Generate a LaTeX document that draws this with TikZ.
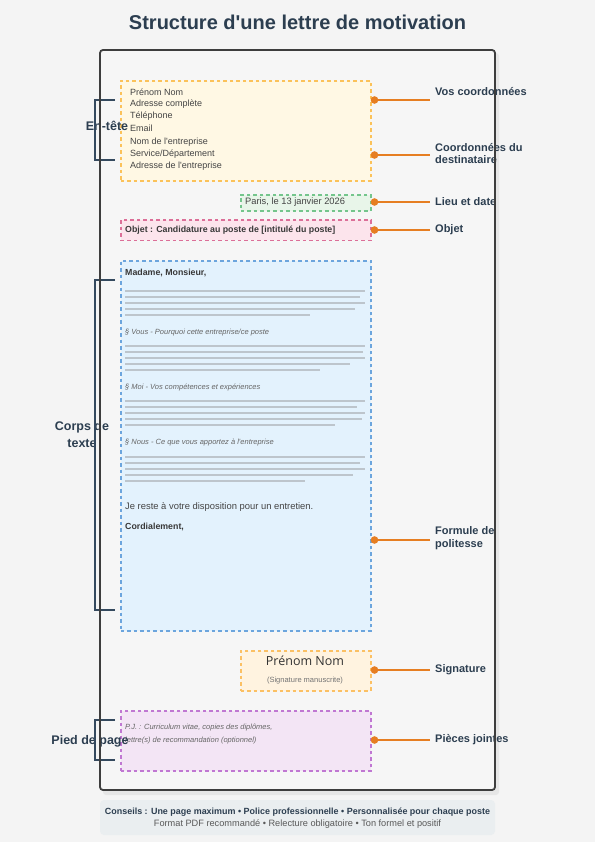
\documentclass[tikz,border=0pt]{standalone}
\usepackage{fontspec}
\setmainfont{Liberation Sans}[Ligatures=TeXOff]
\newfontfamily\handfont{Open Sans}
\definecolor{bgc}{HTML}{F4F4F4}
\definecolor{pagec}{HTML}{F6F6F6}
\definecolor{shadowc}{HTML}{E6E6E6}
\definecolor{borderc}{HTML}{3D3D3D}
\definecolor{navy}{HTML}{2C3E50}
\definecolor{brkc}{HTML}{34495E}
\definecolor{orng}{HTML}{E67E22}
\definecolor{txtc}{HTML}{444444}
\definecolor{itc}{HTML}{666666}
\definecolor{linec}{HTML}{BDC5CC}
\definecolor{ydraw}{HTML}{FBC25A}
\definecolor{yfill}{HTML}{FFF8E4}
\definecolor{gdraw}{HTML}{74C58C}
\definecolor{gfill}{HTML}{E8F5E9}
\definecolor{pdraw}{HTML}{DC6F98}
\definecolor{pfill}{HTML}{FCE4EC}
\definecolor{bdraw}{HTML}{6CA5DD}
\definecolor{bfill}{HTML}{E3F2FD}
\definecolor{odraw}{HTML}{FBC064}
\definecolor{ofill}{HTML}{FFF3E0}
\definecolor{vdraw}{HTML}{C077D2}
\definecolor{vfill}{HTML}{F3E5F5}
\definecolor{footc}{HTML}{EAEEF0}
\tikzset{
  secbox/.style={line width=1.6pt, dash pattern=on 3.5pt off 3pt, anchor=north west, inner sep=0pt},
  boxtxt/.style={anchor=west, inner sep=0pt, font=\fontsize{9}{11}\selectfont, text=txtc},
  boldtxt/.style={anchor=west, inner sep=0pt, font=\bfseries\fontsize{8.8}{11}\selectfont, text=black!78},
  ittxt/.style={anchor=west, inner sep=0pt, font=\itshape\fontsize{7.5}{10}\selectfont, text=itc},
  lbl/.style={anchor=west, inner xsep=5pt, inner ysep=0pt, font=\bfseries\fontsize{11}{12.8}\selectfont, text=navy, align=left},
  sidelbl/.style={inner sep=0pt, font=\bfseries\fontsize{12.5}{17}\selectfont, text=navy, align=center},
  conn/.style={draw=orng, line width=1.6pt},
  dotc/.style={fill=orng},
  brk/.style={draw=brkc, line width=1.6pt},
  txtline/.style={draw=linec, line width=2.3pt}
}
\begin{document}
\begin{tikzpicture}[x=1pt,y=-1pt]
\useasboundingbox (0,0) rectangle (595,842);
\fill[bgc] (0,0) rectangle (595,842);
% title
\node[inner sep=0pt, font=\bfseries\fontsize{20}{24}\selectfont, text=navy] (title) at (297.5,22) {Structure d'une lettre de motivation};
% page shadow and fill
\fill[shadowc, rounded corners=3pt] (103,53) rectangle (499,795);
\fill[pagec, rounded corners=3pt] (100,50) rectangle (495,790);
% en-tete
\node[secbox, draw=ydraw, fill=yfill, minimum width=250pt, minimum height=100pt] (entete) at (120,80) {};
\node[boxtxt] (t1) at (130,92.5) {Prénom Nom};
\node[boxtxt] (t2) at (130,104.2) {Adresse complète};
\node[boxtxt] (t3) at (130,116) {Téléphone};
\node[boxtxt] (t4) at (130,128) {Email};
\node[boxtxt] (t5) at (130,142) {Nom de l'entreprise};
\node[boxtxt] (t6) at (130,154) {Service/Département};
\node[boxtxt] (t7) at (130,166) {Adresse de l'entreprise};
% date
\node[secbox, draw=gdraw, fill=gfill, minimum width=130pt, minimum height=16pt] (datebox) at (240,194) {};
\node[boxtxt, font=\fontsize{9.3}{11}\selectfont] (datet) at (245,202) {Paris, le 13 janvier 2026};
% objet
\node[secbox, draw=pdraw, fill=pfill, minimum width=250pt, minimum height=20pt] (objbox) at (120,219.5) {};
\node[boldtxt] (objt) at (125,230) {Objet : Candidature au poste de [intitulé du poste]};
% corps
\node[secbox, draw=bdraw, fill=bfill, minimum width=250pt, minimum height=370pt] (corps) at (120,260) {};
\node[boldtxt] (salut) at (125,272.5) {Madame, Monsieur,};
\foreach \y/\e in {291/365,297/360,303/365,309/355,315/310,
                   346/365,352/363,358/365,364/350,370/320,
                   401/365,407/357,413/365,419/362,425/335,
                   457/365,463/360,469/365,475/353,481/305}
  \draw[txtline] (125,\y) -- (\e,\y);
\node[ittxt] (s1) at (125,332.5) {§ Vous - Pourquoi cette entreprise/ce poste};
\node[ittxt] (s2) at (125,387.5) {§ Moi - Vos compétences et expériences};
\node[ittxt] (s3) at (125,442.5) {§ Nous - Ce que vous apportez à l'entreprise};
\node[boxtxt, font=\fontsize{9.4}{11}\selectfont] (dispo) at (125,507.5) {Je reste à votre disposition pour un entretien.};
\node[boldtxt] (cord) at (125,527) {Cordialement,};
% signature
\node[secbox, draw=odraw, fill=ofill, minimum width=130pt, minimum height=40pt] (sigbox) at (240,650) {};
\node[inner sep=0pt, font=\handfont\fontsize{12.5}{14}\selectfont, text=black!80] (signame) at (305,661) {Prénom Nom};
\node[inner sep=0pt, font=\fontsize{7.5}{9}\selectfont, text=black!55] (sigsub) at (305,681) {(Signature manuscrite)};
% pieces jointes
\node[secbox, draw=vdraw, fill=vfill, minimum width=250pt, minimum height=60pt] (pjbox) at (120,710) {};
\node[ittxt] (pj1) at (125,728) {P.J. : Curriculum vitae, copies des diplômes,};
\node[ittxt] (pj2) at (125,740.5) {lettre(s) de recommandation (optionnel)};
% right labels
\node[lbl] (l1) at (430,91.5) {Vos coordonnées};
\node[lbl] (l2) at (430,153.5) {Coordonnées du\\destinataire};
\node[lbl] (l3) at (430,201.5) {Lieu et date};
\node[lbl] (l4) at (430,229.5) {Objet};
\node[lbl] (l5) at (430,538) {Formule de\\politesse};
\node[lbl] (l6) at (430,669.5) {Signature};
\node[lbl] (l7) at (430,739.5) {Pièces jointes};
\coordinate (d1) at (374.5,100);
\coordinate (d2) at (374.5,155);
\coordinate (d3) at (374.5,202);
\coordinate (d4) at (374.5,230);
\coordinate (d5) at (374.5,540);
\coordinate (d6) at (374.5,670);
\coordinate (d7) at (374.5,740);
\foreach \i in {1,...,7}{
  \draw[conn] (d\i) -- (d\i -| l\i.west);
  \fill[dotc] (d\i) circle (3.8pt);
}
% left labels
\node[sidelbl] (g1) at (107,126) {En-tête};
\node[sidelbl] (g2) at (82,434.5) {Corps de\\texte};
\node[sidelbl] (g3) at (90,741) {Pied de page};
% brackets
\coordinate (b1a) at (115,100); \coordinate (b1b) at (115,160);
\coordinate (b2a) at (115,280); \coordinate (b2b) at (115,610);
\coordinate (b3a) at (115,720); \coordinate (b3b) at (115,760);
\draw[brk] (b1a) -- ++(-20,0) |- (b1b);
\draw[brk] (b2a) -- ++(-20,0) |- (b2b);
\draw[brk] (b3a) -- ++(-20,0) |- (b3b);
% page border
\draw[borderc, line width=1.8pt, rounded corners=3pt] (100,50) rectangle (495,790);
% footer
\node[fill=footc, rounded corners=4pt, minimum width=395pt, minimum height=35pt, inner sep=0pt] (foot) at (297.5,817.5) {};
\node[inner sep=0pt, font=\bfseries\fontsize{8.95}{10}\selectfont, text=navy] (f1) at (297.5,812) {Conseils : Une page maximum • Police professionnelle • Personnalisée pour chaque poste};
\node[inner sep=0pt, font=\fontsize{9.2}{10}\selectfont, text=black!65] (f2) at (297.5,824.5) {Format PDF recommandé • Relecture obligatoire • Ton formel et positif};
\end{tikzpicture}
\end{document}
